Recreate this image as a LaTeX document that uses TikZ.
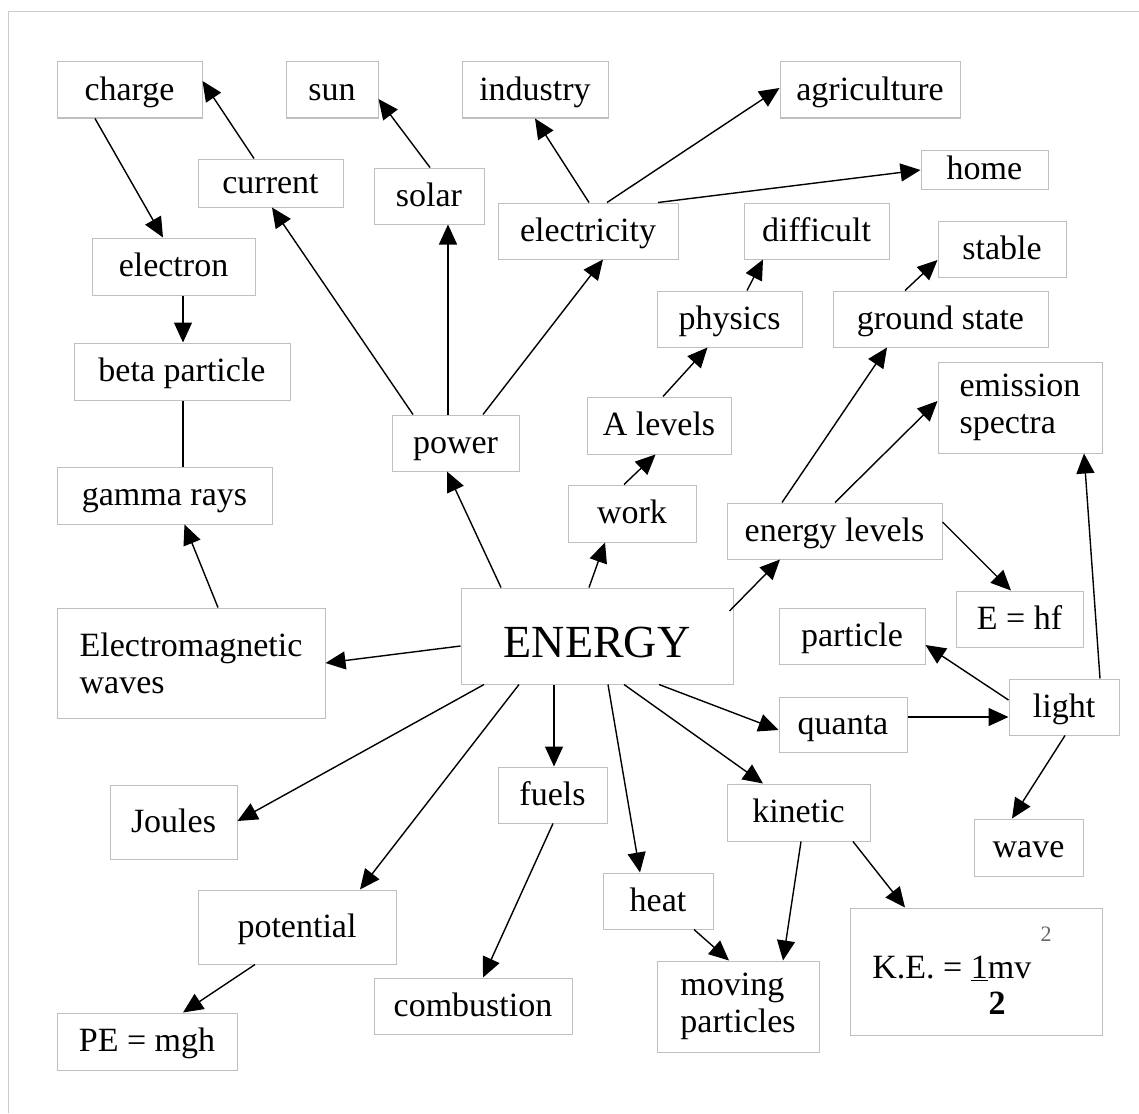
\documentclass[tikz,border=0pt]{standalone}
\usepackage{fontspec}
\setmainfont{Liberation Serif}
\usepackage{tikz}
\usetikzlibrary{arrows.meta}
\usetikzlibrary{calc}
\tikzstyle{box} = [draw=gray!50, line width=0.5pt, inner sep=0pt, minimum height=28pt, font=\fontsize{17}{18.5}\selectfont]
\tikzstyle{concept} = [box, text height=11.5pt, text depth=1.5pt]
\tikzstyle{arrow} = [line width=0.7pt,-{Triangle[length=10pt,width=9pt]}]
\tikzstyle{link} = [line width=0.7pt]

\begin{document}
\begin{tikzpicture}[x=0.5pt, y=-0.5pt]
			\useasboundingbox (0,0) rectangle (1139,1113);
			% page frame
			\draw[gray!40, line width=0.5pt] (8,1113) -- (8,12) -- (1139,12);
			
			% Centre
			\node (energy) [box,
			minimum width=136pt,
			minimum height=48pt,
			text height=21pt, text depth=0pt,
			font=\fontsize{23}{26}\selectfont
			] at (597,636) {ENERGY};
			
			% Top row
			\node (charge) [concept, minimum width=72.5pt] at (129.5,90) {charge};
			\node (sun) [concept, minimum width=46pt] at (332,90) {sun};
			\node (industry) [concept, minimum width=73pt] at (535,90) {industry};
			\node (agriculture) [concept, minimum width=90pt] at (870,90) {agriculture};
			\node (current) [concept, minimum width=72.5pt, minimum height=24pt] at (270.5,183) {current};
			\node (solar) [concept, minimum width=55pt] at (429,196) {solar};
			\node (home) [concept, minimum width=63.5pt, minimum height=19.5pt] at (984.5,169.5) {home};
			\node (electricity) [concept, minimum width=90pt] at (588,231) {electricity};
			\node (difficult) [concept, minimum width=72.5pt] at (816.5,231) {difficult};
			\node (stable) [concept, minimum width=64pt] at (1002,249) {stable};
			\node (power) [concept, minimum width=63.5pt] at (455.5,443) {power};
			
			% Left column
			\node (electron) [concept, minimum width=81.5pt, minimum height=28.5pt] at (173.5,266.5) {electron};
			\node (beta) [concept, minimum width=108pt, minimum height=28.5pt] at (182,371.5) {beta particle};
			\node (gamma) [concept, minimum width=107.5pt, minimum height=28.5pt] at (164.5,495.5) {gamma rays};
			\node (em) [box,
			minimum width=134pt,
			minimum height=55pt,
			align=left
			] at (191,663) {Electromagnetic\\waves};
			
			% Right side
			\node (physics) [concept, minimum width=72.5pt] at (729.5,319) {physics};
			\node (ground) [concept, minimum width=107.5pt] at (940.5,319) {ground state};
			\node (emission) [box,
			minimum width=82pt,
			minimum height=45.5pt,
			align=left
			] at (1020,407.5) {emission\\spectra};
			\node (alevels) [concept, minimum width=72pt, minimum height=28.5pt] at (659,425.5) {A levels};
			\node (work) [concept, minimum width=64pt, minimum height=28.5pt] at (632,513.5) {work};
			\node (levels) [concept, minimum width=107.5pt] at (834.5,531) {energy levels};
			\node (ehf) [concept, minimum width=63.5pt] at (1019.5,619) {E = hf};
			\node (particle) [concept, minimum width=73pt] at (852,636) {particle};
			\node (light) [concept, minimum width=55pt] at (1064,707) {light};
			\node (quanta) [concept, minimum width=64pt, minimum height=27.5pt] at (843,724.5) {quanta};
			\node (wave) [concept, minimum width=54.5pt, minimum height=28.5pt] at (1028.5,847.5) {wave};
			
			% Bottom
			\node (fuels) [concept, minimum width=54.5pt] at (552.5,795) {fuels};
			\node (kinetic) [concept, minimum width=71.5pt, minimum height=28.5pt] at (798.5,812.5) {kinetic};
			\node (joules) [concept, minimum width=63.5pt, minimum height=37pt] at (173.5,822) {Joules};
			\node (heat) [concept, minimum width=55pt] at (658,901) {heat};
			\node (potential) [concept, minimum width=99pt, minimum height=37pt] at (297,927) {potential};
			\node (moving) [box,
			minimum width=81pt,
			minimum height=45.5pt,
			align=left
			] at (738,1006.5) {moving\\particles};
			\node (combustion) [concept, minimum width=99pt] at (473,1006) {combustion};
			\node (pe) [concept, minimum width=90pt, minimum height=28.5pt] at (147,1041.5) {PE = mgh};
			\node (ke) [box, minimum width=126pt, minimum height=63.5pt] at (976,971.5) {};
			\node (kemain) [anchor=base west, inner sep=0pt, font=\fontsize{17}{18.5}\selectfont] at (872,978) {K.E. = \underline{1}mv};
			\node (kehalf) [anchor=base, inner sep=0pt, font=\fontsize{17}{18.5}\selectfont\bfseries] at (997,1014) {2};
			\node (kesq) [anchor=base, inner sep=0pt, text=black!60, font=\fontsize{11}{12}\selectfont] at (1046,941) {2};
			
			% Left chain
			\draw [arrow] ($ (charge.south) + (-34.5,0) $) -- ($ (electron.north) + (-10.5,0) $);
			\draw [arrow] ($ (current.north) + (-16.5,0) $) -- ($ (charge.east) + (0,-9) $);
			\draw [arrow] ($ (electron.south) + (9.5,0) $) -- ($ (beta.north) + (1,0) $);
			\draw [link] ($ (beta.south) + (1,0) $) -- ($ (gamma.north) + (18.5,0) $);
			\draw [arrow] ($ (em.north) + (27,0) $) -- ($ (gamma.south) + (20,0) $);
			
			% Power branch
			\draw [arrow] ($ (energy.north) + (-96,0) $) -- ($ (power.south) + (-8.5,0) $);
			\draw [arrow] ($ (power.north) + (-42.5,0) $) -- ($ (current.south) + (1.5,0) $);
			\draw [arrow] ($ (power.north) + (-7.5,0) $) -- ($ (solar.south) + (19,0) $);
			\draw [arrow] ($ (solar.north) + (1,0) $) -- ($ (sun.east) + (0,9) $);
			\draw [arrow] ($ (power.north) + (27.5,0) $) -- ($ (electricity.south) + (15,0) $);
			\draw [arrow] ($ (electricity.north) + (1,0) $) -- (industry.south);
			\draw [arrow] ($ (electricity.north) + (19,0) $) -- ($ (agriculture.west) + (0,-2) $);
			\draw [arrow] ($ (electricity.north) + (70,0) $) -- ($ (home.west) + (0,0.5) $);
			
			% Work branch
			\draw [arrow] ($ (energy.north) + (-8,0) $) -- ($ (work.south) + (-27,0) $);
			\draw [arrow] ($ (work.north) + (-8,0) $) -- ($ (alevels.south) + (-3.5,0) $);
			\draw [arrow] ($ (alevels.north) + (4,0) $) -- ($ (physics.south) + (-22,0) $);
			\draw [arrow] ($ (physics.north) + (17.5,0) $) -- ($ (difficult.south) + (-53.5,0) $);
			
			% Energy levels branch
			\draw [arrow] ($ (energy.east) + (-4,-25) $) -- ($ (levels.south) + (-54.5,0) $);
			\draw [arrow] ($ (levels.north) + (-52.5,0) $) -- ($ (ground.south) + (-53.5,0) $);
			\draw [arrow] ($ (ground.north) + (-35.5,0) $) -- ($ (stable.west) + (0,11) $);
			\draw [arrow] ($ (levels.north) + (0.5,0) $) -- ($ (emission.west) + (0,-6.5) $);
			\draw [arrow] ($ (levels.east) + (0,-9) $) -- ($ (ehf.north) + (-8.5,0) $);
			
			% Light branch
			\draw [arrow] ($ (energy.south) + (62,0) $) -- ($ (quanta.west) + (0,5.5) $);
			\draw [arrow] ($ (quanta.east) + (0,-7.5) $) -- ($ (light.west) + (0,10) $);
			\draw [arrow] ($ (light.west) + (0,-7) $) -- ($ (particle.east) + (0,9) $);
			\draw [arrow] ($ (light.north) + (36,0) $) -- ($ (emission.south) + (64,0) $);
			\draw [arrow] ($ (light.south) + (1,0) $) -- ($ (wave.north) + (-16.5,0) $);
			
			% Lower branches
			\draw [arrow] ($ (energy.west) + (0,10) $) -- (em.east);
			\draw [arrow] ($ (energy.south) + (-113,0) $) -- ($ (joules.east) + (0,-1) $);
			\draw [arrow] ($ (energy.south) + (-78,0) $) -- ($ (potential.north) + (63,0) $);
			\draw [arrow] ($ (potential.south) + (-42,0) $) -- ($ (pe.north) + (36,0) $);
			\draw [arrow] ($ (energy.south) + (-43,0) $) -- ($ (fuels.north) + (1.5,0) $);
			\draw [arrow] ($ (fuels.south) + (0.5,0) $) -- ($ (combustion.north) + (10,0) $);
			\draw [arrow] ($ (energy.south) + (11,0) $) -- ($ (heat.north) + (-18,0) $);
			\draw [arrow] ($ (heat.south) + (36,0) $) -- ($ (moving.north) + (-9,0) $);
			\draw [arrow] ($ (energy.south) + (27,0) $) -- ($ (kinetic.north) + (-35.5,0) $);
			\draw [arrow] ($ (kinetic.south) + (2.5,0) $) -- ($ (moving.north) + (45,0) $);
			\draw [arrow] ($ (kinetic.south) + (54.5,0) $) -- ($ (ke.north) + (-71,0) $);
\end{tikzpicture}
\end{document}
